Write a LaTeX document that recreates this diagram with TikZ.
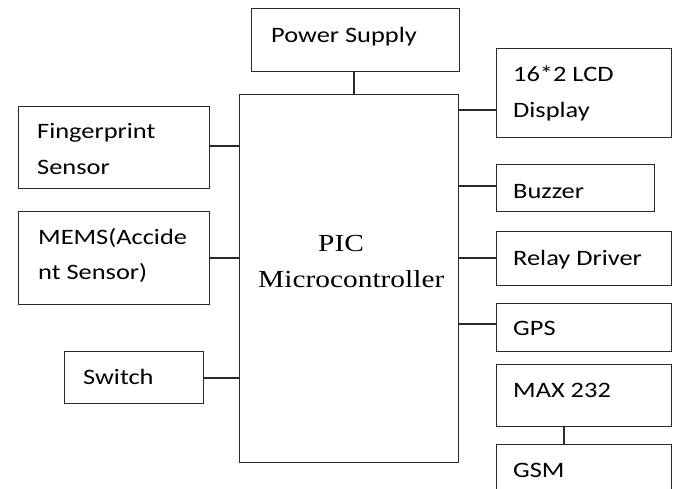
\documentclass[tikz,border=0pt]{standalone}
\usepackage{fontspec}
\newfontfamily\calfont{Carlito}[FakeStretch=1.2]
\newfontfamily\camfont{Liberation Serif}[FakeStretch=1.2]
\definecolor{linec}{HTML}{2A2A2A}
\begin{document}
\begin{tikzpicture}[x=1pt,y=-1pt,
  blk/.style={draw=linec,line width=1.4pt,rectangle,inner sep=0pt,anchor=north west},
  lbl/.style={anchor=base west,inner sep=0pt,font=\calfont\fontsize{22}{26}\selectfont},
  ser/.style={anchor=base west,inner sep=0pt,font=\camfont\fontsize{24.5}{29}\selectfont},
  wire/.style={draw=linec,line width=1.4pt}]
\clip (0,0) rectangle (676,488);
\fill[white] (0,0) rectangle (676,488);
% boxes
\node[blk,minimum width=208pt,minimum height=63pt] (ps) at (251,8) {};
\node[blk,minimum width=219pt,minimum height=368pt] (pic) at (239,94) {};
\node[blk,minimum width=191pt,minimum height=82pt] (fp) at (18,106) {};
\node[blk,minimum width=191pt,minimum height=93pt] (mems) at (18,211) {};
\node[blk,minimum width=139pt,minimum height=52pt] (sw) at (64,351) {};
\node[blk,minimum width=175pt,minimum height=89pt] (lcd) at (496,48) {};
\node[blk,minimum width=158pt,minimum height=47pt] (bz) at (496,164) {};
\node[blk,minimum width=175pt,minimum height=54pt] (rel) at (496,231) {};
\node[blk,minimum width=175pt,minimum height=48pt] (gps) at (496,303) {};
\node[blk,minimum width=175pt,minimum height=62pt] (max) at (496,364) {};
\node[blk,minimum width=175pt,minimum height=70pt] (gsm) at (496,444) {};
% texts
\node[lbl] (tps) at (271,42) {Power Supply};
\node[lbl] (tfp1) at (37,138) {Fingerprint};
\node[lbl] (tfp2) at (37,174) {Sensor};
\node[lbl] (tme1) at (38,244) {MEMS(Accide};
\node[lbl] (tme2) at (38,279) {nt Sensor)};
\node[lbl] (tsw) at (83,384) {Switch};
\node[lbl] (tlcd1) at (513,81) {16*2 LCD};
\node[lbl] (tlcd2) at (513,117) {Display};
\node[lbl] (tbz) at (513,198) {Buzzer};
\node[lbl] (trel) at (513,265) {Relay Driver};
\node[lbl] (tgps) at (513,335) {GPS};
\node[lbl] (tmax) at (513,397) {MAX 232};
\node[lbl] (tgsm) at (513,477) {GSM};
\node[ser] (tpic1) at (318,251) {PIC};
\node[ser] (tpic2) at (258,287) {Microcontroller};
% connector anchors
\coordinate (cps) at (354,71);
\coordinate (cfp) at (209,146);
\coordinate (cme) at (209,258);
\coordinate (csw) at (203,378);
\coordinate (clcd) at (496,110);
\coordinate (cbz) at (496,186);
\coordinate (crel) at (496,258);
\coordinate (cgps) at (496,324);
\coordinate (cmax) at (564,426);
% connectors
\draw[wire] (cps) -- (cps |- pic.north);
\draw[wire] (cfp) -- (cfp -| pic.west);
\draw[wire] (cme) -- (cme -| pic.west);
\draw[wire] (csw) -- (csw -| pic.west);
\draw[wire] (clcd) -- (clcd -| pic.east);
\draw[wire] (cbz) -- (cbz -| pic.east);
\draw[wire] (crel) -- (crel -| pic.east);
\draw[wire] (cgps) -- (cgps -| pic.east);
\draw[wire] (cmax) -- (cmax |- gsm.north);
\end{tikzpicture}
\end{document}
